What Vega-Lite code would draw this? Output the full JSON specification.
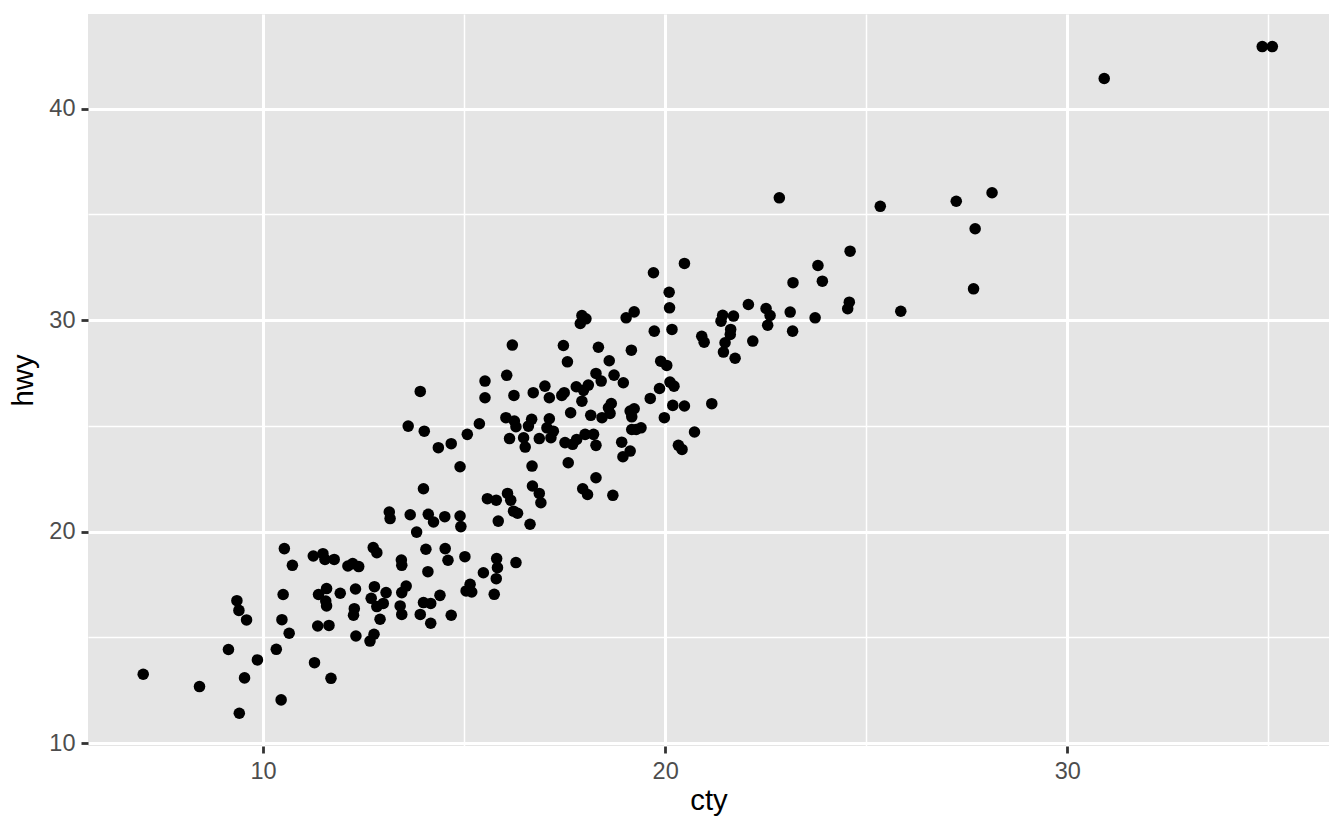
{
  "$schema": "https://vega.github.io/schema/vega-lite/v6.json",
  "width": 1241,
  "height": 732,
  "autosize": {"type": "none"},
  "padding": {"left": 88, "top": 14, "right": 15, "bottom": 84},
  "background": "white",
  "view": {"fill": "#E5E5E5", "stroke": null},
  "config": {
    "font": "Liberation Sans",
    "axis": {
      "domain": false,
      "gridColor": "white",
      "gridOpacity": 1,
      "gridWidth": {"condition": {"test": "datum.value % 10 === 0", "value": 3}, "value": 1.5},
      "tickColor": "#333333",
      "tickWidth": 2.8,
      "tickSize": 7,
      "tickOpacity": {"condition": {"test": "datum.value % 10 === 0", "value": 1}, "value": 0},
      "labelExpr": "datum.value % 10 === 0 ? datum.label : ''",
      "labelColor": "#4D4D4D",
      "labelFontSize": 23.5,
      "labelFont": "Liberation Sans",
      "labelPadding": 6,
      "titleColor": "black",
      "titleFontSize": 29.3,
      "titleFontWeight": "normal",
      "titleFont": "Liberation Sans"
    }
  },
  "data": {"values": [
    {"cty":10.53,"hwy":19.20},{"cty":10.73,"hwy":18.41},{"cty":11.25,"hwy":18.85},{"cty":11.49,"hwy":18.96},
    {"cty":11.54,"hwy":18.69},{"cty":11.77,"hwy":18.69},{"cty":12.11,"hwy":18.38},{"cty":12.23,"hwy":18.49},
    {"cty":12.38,"hwy":18.35},{"cty":12.74,"hwy":19.25},{"cty":12.83,"hwy":19.01},{"cty":9.35,"hwy":16.74},
    {"cty":9.40,"hwy":16.28},{"cty":9.59,"hwy":15.83},{"cty":10.50,"hwy":17.03},{"cty":10.47,"hwy":15.84},
    {"cty":10.65,"hwy":15.20},{"cty":11.38,"hwy":17.03},{"cty":11.58,"hwy":17.31},{"cty":11.56,"hwy":16.72},
    {"cty":11.58,"hwy":16.49},{"cty":11.92,"hwy":17.09},{"cty":12.30,"hwy":17.29},{"cty":12.77,"hwy":17.40},
    {"cty":12.69,"hwy":16.85},{"cty":12.83,"hwy":16.46},{"cty":12.27,"hwy":16.36},{"cty":12.25,"hwy":16.05},
    {"cty":12.91,"hwy":15.86},{"cty":11.36,"hwy":15.54},{"cty":11.64,"hwy":15.57},{"cty":12.31,"hwy":15.07},
    {"cty":12.66,"hwy":14.83},{"cty":12.76,"hwy":15.15},{"cty":9.14,"hwy":14.43},{"cty":9.86,"hwy":13.94},
    {"cty":10.33,"hwy":14.44},{"cty":7.02,"hwy":13.26},{"cty":8.42,"hwy":12.68},{"cty":9.54,"hwy":13.09},
    {"cty":11.28,"hwy":13.81},{"cty":11.69,"hwy":13.07},{"cty":10.45,"hwy":12.05},{"cty":9.41,"hwy":11.42},
    {"cty":13.99,"hwy":22.03},{"cty":13.14,"hwy":20.93},{"cty":13.16,"hwy":20.62},{"cty":13.66,"hwy":20.80},
    {"cty":14.11,"hwy":20.82},{"cty":14.24,"hwy":20.46},{"cty":14.52,"hwy":20.71},{"cty":14.90,"hwy":20.74},
    {"cty":14.92,"hwy":20.24},{"cty":13.82,"hwy":19.98},{"cty":15.58,"hwy":21.56},{"cty":15.80,"hwy":21.49},
    {"cty":16.08,"hwy":21.81},{"cty":16.16,"hwy":21.49},{"cty":16.23,"hwy":20.97},{"cty":15.85,"hwy":20.50},
    {"cty":13.44,"hwy":18.66},{"cty":13.45,"hwy":18.41},{"cty":14.05,"hwy":19.17},{"cty":14.53,"hwy":19.20},
    {"cty":14.60,"hwy":18.65},{"cty":15.02,"hwy":18.82},{"cty":14.10,"hwy":18.11},{"cty":15.48,"hwy":18.06},
    {"cty":15.81,"hwy":18.73},{"cty":15.83,"hwy":18.30},{"cty":15.80,"hwy":17.78},{"cty":16.29,"hwy":18.54},
    {"cty":15.15,"hwy":17.51},{"cty":15.05,"hwy":17.20},{"cty":15.19,"hwy":17.15},{"cty":15.75,"hwy":17.04},
    {"cty":13.06,"hwy":17.12},{"cty":12.99,"hwy":16.61},{"cty":13.45,"hwy":17.12},{"cty":13.56,"hwy":17.43},
    {"cty":13.41,"hwy":16.49},{"cty":13.45,"hwy":16.09},{"cty":13.99,"hwy":16.65},{"cty":14.17,"hwy":16.61},
    {"cty":14.40,"hwy":16.99},{"cty":13.91,"hwy":16.09},{"cty":14.17,"hwy":15.67},{"cty":14.68,"hwy":16.05},
    {"cty":16.33,"hwy":20.87},{"cty":16.64,"hwy":20.35},{"cty":13.91,"hwy":26.63},{"cty":13.61,"hwy":24.99},
    {"cty":14.01,"hwy":24.75},{"cty":14.36,"hwy":23.97},{"cty":14.68,"hwy":24.16},{"cty":15.08,"hwy":24.60},
    {"cty":15.38,"hwy":25.10},{"cty":14.90,"hwy":23.07},{"cty":15.52,"hwy":27.12},{"cty":15.52,"hwy":26.33},
    {"cty":16.06,"hwy":27.39},{"cty":16.24,"hwy":26.44},{"cty":16.72,"hwy":26.57},{"cty":17.01,"hwy":26.88},
    {"cty":17.12,"hwy":26.33},{"cty":16.04,"hwy":25.39},{"cty":16.25,"hwy":25.23},{"cty":16.29,"hwy":24.96},
    {"cty":16.68,"hwy":25.31},{"cty":16.60,"hwy":24.99},{"cty":17.12,"hwy":25.34},{"cty":17.06,"hwy":24.91},
    {"cty":17.22,"hwy":24.75},{"cty":16.13,"hwy":24.40},{"cty":16.48,"hwy":24.44},{"cty":16.52,"hwy":24.00},
    {"cty":16.87,"hwy":24.40},{"cty":17.16,"hwy":24.44},{"cty":16.69,"hwy":23.10},{"cty":16.70,"hwy":22.16},
    {"cty":16.87,"hwy":21.81},{"cty":16.91,"hwy":21.37},{"cty":17.59,"hwy":23.26},{"cty":18.28,"hwy":22.55},
    {"cty":17.95,"hwy":22.03},{"cty":18.07,"hwy":21.76},{"cty":18.70,"hwy":21.72},{"cty":20.33,"hwy":24.08},
    {"cty":20.42,"hwy":23.89},{"cty":18.92,"hwy":24.23},{"cty":19.13,"hwy":23.81},{"cty":18.95,"hwy":23.54},
    {"cty":18.28,"hwy":24.08},{"cty":19.73,"hwy":29.48},{"cty":20.17,"hwy":29.56},{"cty":20.91,"hwy":29.24},
    {"cty":20.97,"hwy":28.96},{"cty":21.49,"hwy":28.93},{"cty":21.45,"hwy":28.49},{"cty":17.47,"hwy":28.80},
    {"cty":18.34,"hwy":28.72},{"cty":19.16,"hwy":28.58},{"cty":17.57,"hwy":28.03},{"cty":18.61,"hwy":28.08},
    {"cty":19.89,"hwy":28.06},{"cty":20.04,"hwy":27.86},{"cty":18.28,"hwy":27.48},{"cty":18.41,"hwy":27.12},
    {"cty":18.73,"hwy":27.40},{"cty":18.96,"hwy":27.04},{"cty":17.79,"hwy":26.85},{"cty":18.09,"hwy":26.93},
    {"cty":17.97,"hwy":26.68},{"cty":17.49,"hwy":26.57},{"cty":17.43,"hwy":26.44},{"cty":17.93,"hwy":26.17},
    {"cty":20.12,"hwy":27.07},{"cty":20.22,"hwy":26.88},{"cty":19.86,"hwy":26.77},{"cty":19.63,"hwy":26.30},
    {"cty":21.16,"hwy":26.05},{"cty":20.19,"hwy":25.97},{"cty":20.48,"hwy":25.94},{"cty":19.98,"hwy":25.39},
    {"cty":17.65,"hwy":25.62},{"cty":18.15,"hwy":25.50},{"cty":18.43,"hwy":25.39},{"cty":18.66,"hwy":26.06},
    {"cty":18.59,"hwy":25.86},{"cty":18.63,"hwy":25.59},{"cty":19.13,"hwy":25.70},{"cty":19.23,"hwy":25.81},
    {"cty":19.17,"hwy":25.43},{"cty":17.51,"hwy":24.21},{"cty":17.80,"hwy":24.36},{"cty":18.01,"hwy":24.60},
    {"cty":18.22,"hwy":24.60},{"cty":17.70,"hwy":24.13},{"cty":19.17,"hwy":24.83},{"cty":19.40,"hwy":24.91},
    {"cty":19.28,"hwy":24.83},{"cty":20.73,"hwy":24.71},{"cty":20.48,"hwy":32.68},{"cty":19.71,"hwy":32.24},
    {"cty":20.10,"hwy":31.32},{"cty":20.11,"hwy":30.58},{"cty":17.93,"hwy":30.22},{"cty":18.03,"hwy":30.06},
    {"cty":17.89,"hwy":29.84},{"cty":19.23,"hwy":30.39},{"cty":19.03,"hwy":30.11},{"cty":21.43,"hwy":30.23},
    {"cty":21.39,"hwy":29.95},{"cty":21.70,"hwy":30.19},{"cty":22.07,"hwy":30.74},{"cty":21.63,"hwy":29.56},
    {"cty":21.62,"hwy":29.32},{"cty":23.18,"hwy":31.77},{"cty":23.91,"hwy":31.84},{"cty":24.58,"hwy":30.85},
    {"cty":24.54,"hwy":30.54},{"cty":22.51,"hwy":30.55},{"cty":22.61,"hwy":30.22},{"cty":22.55,"hwy":29.76},
    {"cty":23.11,"hwy":30.38},{"cty":23.73,"hwy":30.11},{"cty":23.17,"hwy":29.48},{"cty":22.18,"hwy":29.01},
    {"cty":21.74,"hwy":28.20},{"cty":22.84,"hwy":35.78},{"cty":25.35,"hwy":35.38},{"cty":27.24,"hwy":35.62},
    {"cty":28.13,"hwy":36.02},{"cty":27.71,"hwy":34.32},{"cty":27.67,"hwy":31.48},{"cty":25.86,"hwy":30.42},
    {"cty":24.60,"hwy":33.26},{"cty":23.80,"hwy":32.58},{"cty":16.20,"hwy":28.82},{"cty":30.92,"hwy":41.42},
    {"cty":34.85,"hwy":42.93},{"cty":35.10,"hwy":42.93}
  ]},
  "mark": {"type": "circle", "size": 133, "color": "black", "opacity": 1},
  "encoding": {
    "x": {
      "field": "cty", "type": "quantitative", "title": "cty",
      "scale": {"domain": [5.647, 36.51], "nice": false, "zero": false},
      "axis": {"values": [10, 15, 20, 25, 30, 35], "titlePadding": 4}
    },
    "y": {
      "field": "hwy", "type": "quantitative", "title": "hwy",
      "scale": {"domain": [9.87, 44.47], "nice": false, "zero": false},
      "axis": {"values": [10, 15, 20, 25, 30, 35, 40], "titlePadding": 10}
    }
  }
}
